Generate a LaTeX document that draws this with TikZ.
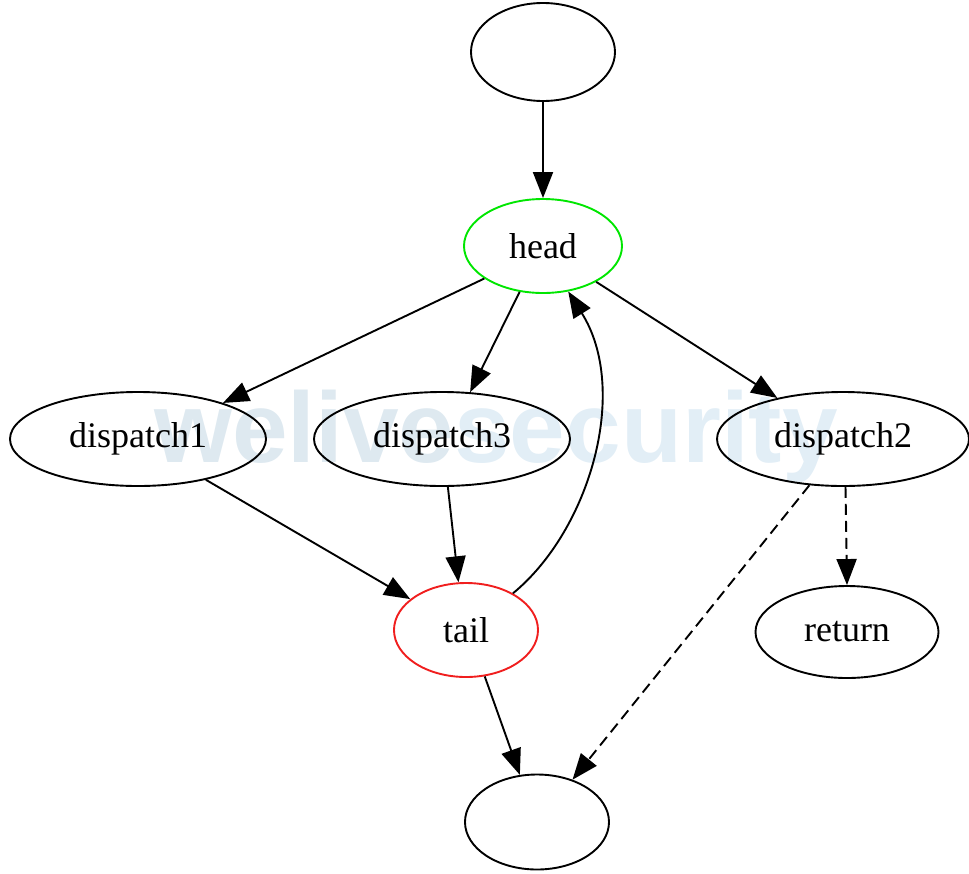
\documentclass[tikz,border=0pt]{standalone}
\usepackage{fontspec}
\setmainfont{Liberation Serif}
\newfontfamily\wmfont{Liberation Sans}
\usetikzlibrary{shapes.geometric,arrows.meta}
\definecolor{wmA}{RGB}{222,233,240}
\definecolor{wmB}{RGB}{226,238,246}
\definecolor{headgreen}{RGB}{0,230,0}
\definecolor{tailred}{RGB}{240,30,30}
\tikzset{
  gv/.style={ellipse, draw=black, line width=1.9pt, inner sep=0pt,
    font=\fontsize{36}{40}\selectfont},
  edge/.style={line width=1.9pt, -{Triangle[length=26pt,width=20pt]}},
  dedge/.style={edge, dash pattern=on 11pt off 6pt},
}
\begin{document}
\begin{tikzpicture}[x=1pt,y=-1pt]
\useasboundingbox (0,0) rectangle (969,873);
% watermark
\node[anchor=base west, inner sep=0pt, font=\wmfont\bfseries\fontsize{100}{100}\selectfont] (wm) at (154,462)
  {\textcolor{wmA}{welive}\textcolor{wmB}{security}};
% nodes
\node[gv, minimum width=144pt, minimum height=98pt] (top) at (543,52) {};
\node[gv, draw=headgreen, minimum width=158pt, minimum height=94pt] (head) at (543,246) {head};
\node[gv, minimum width=256pt, minimum height=94pt] (d1) at (138,439) {dispatch1};
\node[gv, minimum width=256pt, minimum height=94pt] (d3) at (442,439) {dispatch3};
\node[gv, minimum width=252pt, minimum height=94pt] (d2) at (843,439) {dispatch2};
\node[gv, draw=tailred, minimum width=144pt, minimum height=94pt] (tail) at (466,630) {tail};
\node[gv, minimum width=183pt, minimum height=92pt] (ret) at (847,632) {return};
\node[gv, minimum width=144pt, minimum height=95pt] (bot) at (537,822) {};
% edges
\draw[edge] (top.south) -- (head.north);
\draw[edge] (head.209) -- (d1.23);
\draw[edge] (head.-117) -- (d3.59);
\draw[edge] (head.-34) -- (d2.148);
\draw[edge] (d1.-31) -- (tail.151);
\draw[edge] (d3.-83) -- (tail.99);
\draw[edge] (tail.38) .. controls (590,530) and (630,390) .. (head.-61);
\draw[edge] (tail.-68) -- (bot.110);
\draw[dedge] (d2.-87) -- (ret.north);
\draw[dedge] (d2.-126) -- (bot.50);
\end{tikzpicture}
\end{document}
